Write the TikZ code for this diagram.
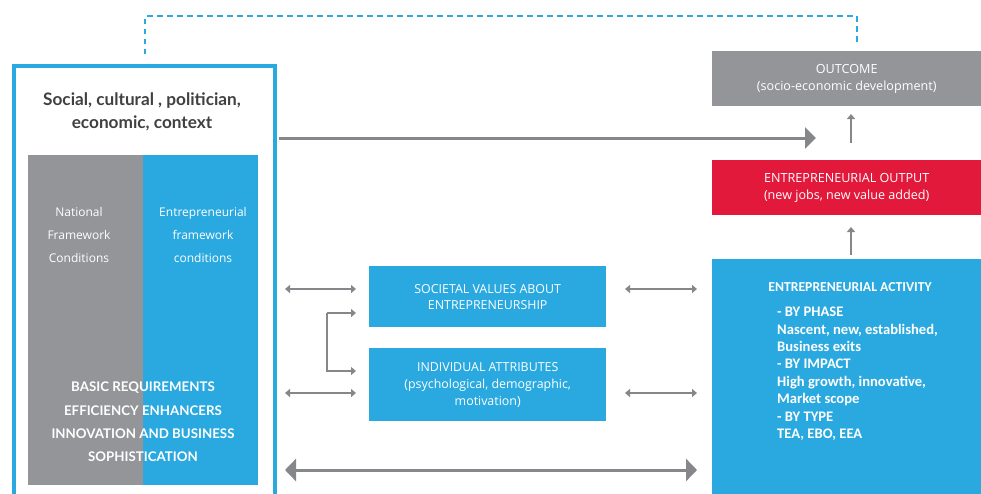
\documentclass[tikz,border=0pt]{standalone}
\usepackage{fontspec}
\setmainfont{Open Sans}
\newfontfamily\headfont{Lato}
\newfontfamily\calfont{Carlito}
\usetikzlibrary{arrows.meta,positioning}

\definecolor{gemblue}{HTML}{29A9E0}
\definecolor{gemgray}{HTML}{939598}
\definecolor{gemred}{HTML}{E2193A}
\definecolor{arrgray}{HTML}{86878A}
\definecolor{titlegray}{HTML}{404040}

\tikzset{
  box/.style={text=white, align=center, inner sep=0pt, anchor=north west,
    font=\fontsize{12.6}{17}\selectfont},
  txt/.style={text=white, align=center, inner sep=0pt},
  twoway/.style={arrgray, line width=1.3pt,
    {Triangle[length=5pt,width=8pt]}-{Triangle[length=5pt,width=8pt]}},
  oneway/.style={arrgray, line width=1.3pt, -{Triangle[length=5pt,width=8pt]}},
  bigway/.style={arrgray, line width=3pt,
    {Triangle[length=11pt,width=22pt]}-{Triangle[length=11pt,width=22pt]}},
}

\begin{document}
\begin{tikzpicture}[x=1pt,y=-1pt]
  \useasboundingbox (0,0) rectangle (981,493);
  \clip (0,0) rectangle (981,493);

  % Left context frame with its two columns
  \node[draw=gemblue, line width=4pt, anchor=north west, inner sep=0pt,
        minimum width=261pt, minimum height=440pt] (context) at (12,64) {};
  \node[fill=gemgray, anchor=north west, inner sep=0pt,
        minimum width=115pt, minimum height=330pt] (natl) at (28,155) {};
  \node[fill=gemblue, anchor=north west, inner sep=0pt,
        minimum width=115pt, minimum height=330pt] (entfw) at (143,155) {};

  \node[text=titlegray, align=center, inner sep=0pt,
        font=\headfont\bfseries\fontsize{17.2}{23}\selectfont] (ctxtitle) at (142,112)
        {Social, cultural , politician,\\economic, context};
  \node[txt, font=\fontsize{12}{23}\selectfont] (natltxt) at (79,235)
        {National\\Framework\\Conditions};
  \node[txt, font=\fontsize{12}{23}\selectfont] (entfwtxt) at (203,235)
        {Entrepreneurial\\framework\\conditions};
  \node[txt, font=\headfont\bfseries\fontsize{13.3}{23.3}\selectfont] (pillars) at (143,422)
        {BASIC REQUIREMENTS\\EFFICIENCY ENHANCERS\\INNOVATION AND BUSINESS\\SOPHISTICATION};

  % Middle boxes
  \node[box, fill=gemblue, minimum width=237pt, minimum height=61pt,
        font=\fontsize{12.4}{16}\selectfont] (societal) at (369,266)
        {SOCIETAL VALUES ABOUT\\ENTREPRENEURSHIP};
  \node[box, fill=gemblue, minimum width=237pt, minimum height=73pt,
        font=\fontsize{12.4}{17}\selectfont] (individual) at (369,348)
        {INDIVIDUAL ATTRIBUTES\\(psychological, demographic,\\motivation)};

  % Right column
  \node[box, fill=gemgray, minimum width=269pt, minimum height=55pt] (outcome) at (712,51)
        {OUTCOME\\(socio-economic development)};
  \node[box, fill=gemred, minimum width=269pt, minimum height=55pt] (output) at (712,160)
        {ENTREPRENEURIAL OUTPUT\\(new jobs, new value added)};
  \node[box, fill=gemblue, minimum width=269pt, minimum height=240pt] (activity) at (712,259) {};
  \node[txt, font=\calfont\bfseries\fontsize{13.7}{17.4}\selectfont] (acttitle) at (850,287)
        {ENTREPRENEURIAL ACTIVITY};
  \node[txt, align=left, anchor=north west, font=\calfont\bfseries\fontsize{14.6}{17.4}\selectfont]
        (actlist) at (777,307)
        {- BY PHASE\\Nascent, new, established,\\Business exits\\- BY IMPACT\\High growth, innovative,\\Market scope\\- BY TYPE\\TEA, EBO, EEA};

  % Connector end points
  \coordinate (ctxout) at (279,138);
  \coordinate (outin) at (816,138);
  \coordinate (fbtop) at (145,16);
  \coordinate (fbend) at (857,42);
  \coordinate (bra) at (327,313);
  \coordinate (brb) at (327,371);

  % Feedback loop
  \draw[gemblue, line width=2pt, dash pattern=on 5.5pt off 4.5pt]
        (145,54) -- (fbtop) -| (fbend);

  % Arrows
  \draw[arrgray, line width=3pt, -{Triangle[length=11pt,width=21pt]}] (ctxout) -- (outin);
  \draw[oneway] (851,143) -- (851,114);
  \draw[oneway] (851,255) -- (851,227);

  \draw[twoway] (285,289) -- (356,289);
  \draw[twoway] (285,393) -- (356,393);
  \draw[twoway] (625,289) -- (697,289);
  \draw[twoway] (625,393) -- (697,393);
  \draw[oneway] (bra) -- (356,313);
  \draw[oneway] (bra) -- (brb) -- (356,371);

  \draw[bigway] (285,470) -- (697,470);
\end{tikzpicture}
\end{document}
